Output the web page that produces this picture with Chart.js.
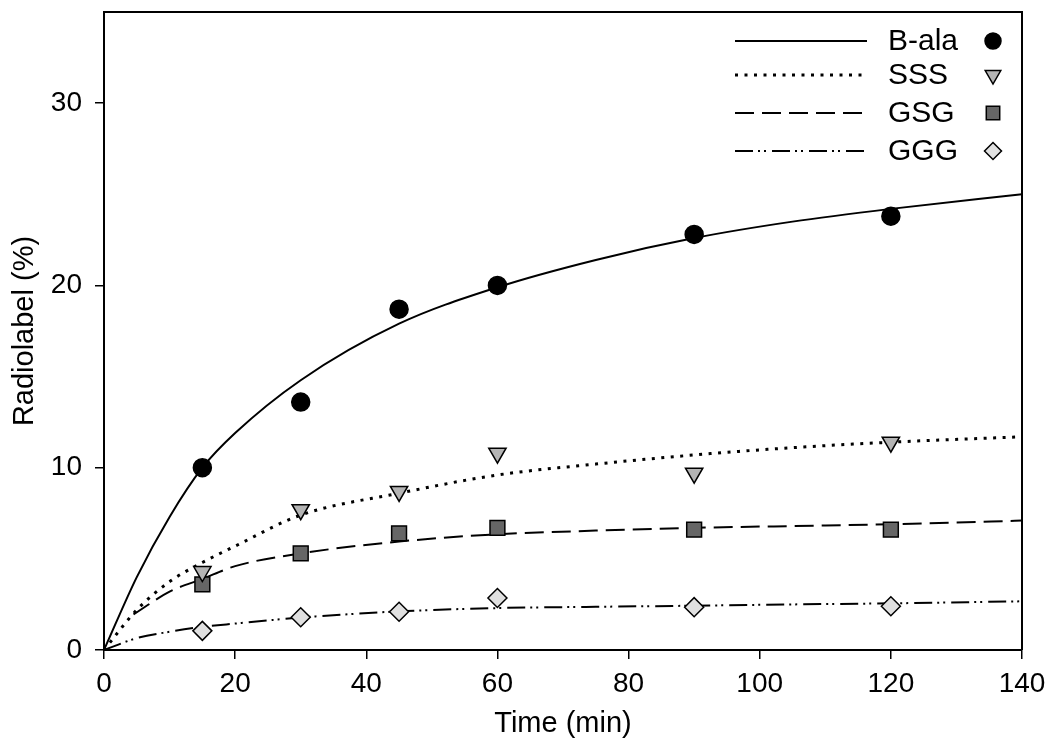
<!DOCTYPE html>
<html lang="en">
<head>
  <meta charset="UTF-8">
  <title>Radiolabel</title>
  <script src="https://cdn.jsdelivr.net/npm/chart.js"></script>
  <style>
    body { margin: 0; background: #fff; }
    canvas { display: block; }
  </style>
</head>
<body>
  <canvas id="radioChart" width="1050" height="747"></canvas>
  <script>
    // measured points
    const times = [15, 30, 45, 60, 90, 120];
    const bala = [10.0, 13.6, 18.7, 20.0, 22.8, 23.8];
    const sss = [4.3, 7.7, 8.7, 10.8, 9.7, 11.4];
    const gsg = [3.6, 5.3, 6.4, 6.7, 6.6, 6.6];
    const ggg = [1.05, 1.8, 2.1, 2.85, 2.35, 2.4];

    // fitted curves
    const fitX = [0, 5, 10, 15, 20, 30, 45, 60, 75, 90, 105, 120, 140];
    const balaFit = [0, 4.0, 7.3, 10.0, 11.9, 14.8, 17.9, 19.9, 21.4, 22.6, 23.5, 24.2, 25.0];
    const sssFit = [0, 2.2, 3.75, 4.8, 5.7, 7.4, 8.6, 9.6, 10.2, 10.7, 11.1, 11.4, 11.7];
    const gsgFitX = [4.5, 10, 15, 20, 30, 45, 60, 75, 90, 105, 120, 140];
    const gsgFit = [1.95, 3.2, 3.9, 4.6, 5.3, 5.95, 6.35, 6.55, 6.7, 6.8, 6.9, 7.1];
    const gggFit = [0, 0.65, 1.0, 1.27, 1.45, 1.78, 2.12, 2.3, 2.37, 2.43, 2.5, 2.56, 2.67];

    const xTicks = [0, 20, 40, 60, 80, 100, 120, 140];
    const yTicks = [0, 10, 20, 30];
    const legendNames = ['B-ala', 'SSS', 'GSG', 'GGG'];

    const FONT = '"Liberation Sans", Arial, Helvetica, sans-serif';
    Chart.defaults.font.family = FONT;
    Chart.defaults.color = '#000';

    const pts = (xs, ys) => xs.map((x, i) => ({ x: x, y: ys[i] }));

    const styles = [
      { dash: [], width: 2, point: 'circle', fill: '#000', r: 9, rot: 0 },
      { dash: [3, 6.5], width: 3, point: 'triangle', fill: '#b4b4b4', r: 10, rot: 180 },
      { dash: [19, 8], width: 2, point: 'rect', fill: '#666', r: 10.5, rot: 0 },
      { dash: [18, 5, 2, 4, 2, 6], width: 2, point: 'rectRot', fill: '#e0e0e0', r: 9.5, rot: 0 }
    ];

    function markerSet(data, s) {
      return {
        type: 'scatter', data: data, showLine: false, order: 0,
        pointStyle: s.point, pointRadius: s.r, pointRotation: s.rot,
        pointBackgroundColor: s.fill, pointBorderColor: '#000', pointBorderWidth: 1.5,
        pointHoverRadius: s.r
      };
    }
    function curveSet(data, s) {
      return {
        type: 'line', data: data, order: 1, pointRadius: 0, pointHoverRadius: 0,
        borderColor: '#000', borderWidth: s.width, borderDash: s.dash,
        fill: false, cubicInterpolationMode: 'monotone'
      };
    }

    function drawShape(ctx, style, r, x, y) {
      if (style === 'circle') {
        ctx.arc(x, y, r, 0, Math.PI * 2);
      } else if (style === 'triangle') {
        const w = r * Math.sqrt(3) / 2;
        ctx.moveTo(x - w, y - r / 2);
        ctx.lineTo(x + w, y - r / 2);
        ctx.lineTo(x, y + r);
        ctx.closePath();
      } else if (style === 'rect') {
        const q = r * Math.SQRT1_2;
        ctx.rect(x - q, y - q, 2 * q, 2 * q);
      } else {
        ctx.moveTo(x, y - r);
        ctx.lineTo(x + r, y);
        ctx.lineTo(x, y + r);
        ctx.lineTo(x - r, y);
        ctx.closePath();
      }
    }

    // top/right frame and the legend
    const framePlugin = {
      id: 'frameAndLegend',
      afterDraw(chart) {
        const ctx = chart.ctx;
        const a = chart.chartArea;
        ctx.save();
        ctx.strokeStyle = '#000';
        ctx.lineWidth = 2;
        ctx.beginPath();
        ctx.moveTo(a.left, a.top);
        ctx.lineTo(a.right, a.top);
        ctx.lineTo(a.right, a.bottom);
        ctx.stroke();

        const rowY = [41, 75, 113, 151];
        for (let i = 0; i < legendNames.length; i++) {
          const s = styles[i];
          const y = rowY[i];
          ctx.setLineDash(s.dash);
          ctx.lineWidth = s.width;
          ctx.strokeStyle = '#000';
          ctx.beginPath();
          ctx.moveTo(735, y);
          ctx.lineTo(867, y);
          ctx.stroke();
          ctx.setLineDash([]);

          ctx.fillStyle = '#000';
          ctx.font = '30px ' + FONT;
          ctx.textAlign = 'left';
          ctx.textBaseline = 'middle';
          ctx.fillText(legendNames[i], 888, y + 1);

          ctx.fillStyle = s.fill;
          ctx.lineWidth = 1.5;
          ctx.beginPath();
          drawShape(ctx, s.point, s.r - 1, 993, y);
          ctx.fill();
          ctx.stroke();
        }
        ctx.restore();
      }
    };

    const ctx = document.getElementById('radioChart').getContext('2d');
    new Chart(ctx, {
      type: 'scatter',
      data: {
        datasets: [
          markerSet(pts(times, bala), styles[0]),
          markerSet(pts(times, sss), styles[1]),
          markerSet(pts(times, gsg), styles[2]),
          markerSet(pts(times, ggg), styles[3]),
          curveSet(pts(fitX, balaFit), styles[0]),
          curveSet(pts(fitX, sssFit), styles[1]),
          curveSet(pts(gsgFitX, gsgFit), styles[2]),
          curveSet(pts(fitX, gggFit), styles[3])
        ]
      },
      options: {
        responsive: false,
        animation: false,
        layout: { padding: { top: 8, right: 28, left: 0, bottom: 0 } },
        plugins: { legend: { display: false }, tooltip: { enabled: false } },
        scales: {
          x: {
            type: 'linear', min: 0, max: 140,
            afterBuildTicks: s => { s.ticks = xTicks.map(v => ({ value: v })); },
            afterFit: s => { s.height = 97; s.paddingLeft = 0; s.paddingRight = 0; },
            ticks: { font: { size: 28 }, color: '#000', padding: 8, maxRotation: 0, autoSkip: false },
            grid: { drawOnChartArea: false, drawTicks: true, tickLength: 9, color: '#000', lineWidth: 1.5 },
            border: { display: true, color: '#000', width: 2 },
            title: { display: true, text: 'Time (min)', font: { size: 29 }, color: '#000', padding: { top: 6, bottom: 6 } }
          },
          y: {
            type: 'linear', min: 0, max: 35,
            afterBuildTicks: s => { s.ticks = yTicks.map(v => ({ value: v })); },
            afterFit: s => { s.width = 104; s.paddingTop = 0; s.paddingBottom = 0; },
            ticks: { font: { size: 28 }, color: '#000', padding: 13 },
            grid: { drawOnChartArea: false, drawTicks: true, tickLength: 9, color: '#000', lineWidth: 1.5 },
            border: { display: true, color: '#000', width: 2 },
            title: { display: true, text: 'Radiolabel (%)', font: { size: 29 }, color: '#000', padding: { top: 8, bottom: 8 } }
          }
        }
      },
      plugins: [framePlugin]
    });
  </script>
</body>
</html>
